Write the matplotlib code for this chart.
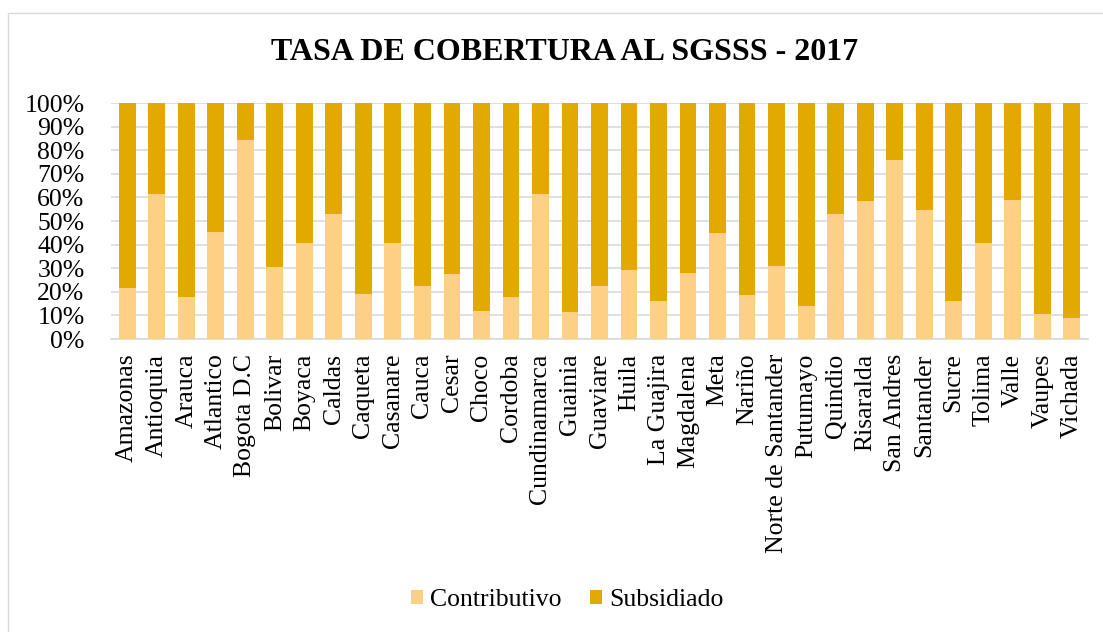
import numpy as np
import matplotlib.pyplot as plt
from matplotlib.patches import Rectangle
from matplotlib.ticker import PercentFormatter

plt.rcParams['font.family'] = ['Liberation Serif', 'DejaVu Serif']

departamentos = ["Amazonas", "Antioquia", "Arauca", "Atlantico", "Bogota D.C", "Bolivar",
                 "Boyaca", "Caldas", "Caqueta", "Casanare", "Cauca", "Cesar", "Choco",
                 "Cordoba", "Cundinamarca", "Guainia", "Guaviare", "Huila", "La Guajira",
                 "Magdalena", "Meta", "Nariño", "Norte de Santander", "Putumayo", "Quindio",
                 "Risaralda", "San Andres", "Santander", "Sucre", "Tolima", "Valle",
                 "Vaupes", "Vichada"]
# porcentaje regimen contributivo
contributivo = [21.8, 61.4, 17.6, 45.2, 84.4, 30.5, 40.6, 53.0, 18.9, 40.7, 22.3,
                27.5, 11.8, 18.0, 61.4, 11.3, 22.3, 29.1, 16.3, 27.9, 45.1, 18.6,
                30.9, 13.9, 53.0, 58.6, 75.7, 54.6, 16.3, 40.6, 59.0, 10.5, 8.8]
subsidiado = [100 - c for c in contributivo]

color_con = "#FDD085"
color_sub = "#E2AA00"

fig = plt.figure(figsize=(11.03, 6.32), dpi=100)
ax = fig.add_axes([111 / 1103, 1 - 339 / 632, (1088 - 111) / 1103, (339 - 103) / 632])

x = np.arange(len(departamentos))
ax.bar(x, contributivo, width=0.57, color=color_con, label="Contributivo", zorder=3)
ax.bar(x, subsidiado, width=0.57, bottom=contributivo, color=color_sub,
       label="Subsidiado", zorder=3)

ax.set_ylim(0, 100)
ax.set_xlim(-0.55, len(departamentos) - 0.45)
ax.set_yticks(range(0, 101, 10))
ax.yaxis.set_major_formatter(PercentFormatter(decimals=0))
ax.set_xticks(x)
ax.set_xticklabels(departamentos, rotation=90, fontsize=18.5)
ax.tick_params(axis='y', labelsize=18.5, length=0, pad=19)
ax.tick_params(axis='x', length=0, pad=10.5)
ax.grid(axis='y', color="#D9D9D9", linewidth=1.2, zorder=0)
for s in ["top", "right", "left"]:
    ax.spines[s].set_visible(False)
ax.spines["bottom"].set_color("#D9D9D9")
ax.spines["bottom"].set_linewidth(1.2)

fig.text(0.512, 1 - 52 / 632, "TASA DE COBERTURA AL SGSSS - 2017", ha='center', va='center',
         fontsize=23, fontweight='bold')

fig.legend(loc='center', bbox_to_anchor=(0.514, 1 - 600 / 632), ncol=2, frameon=False,
           fontsize=18.5, handlelength=0.5, handleheight=0.5, handletextpad=0.25,
           columnspacing=1.1)

# marco del grafico (solo borde izquierdo y superior visibles)
fig.patches.append(Rectangle((8 / 1103, -0.05), 1.1, 1.05 - 13 / 632,
                             transform=fig.transFigure, fill=False,
                             edgecolor="#D9D9D9", linewidth=1))

fig.savefig("out.png", dpi=100)
